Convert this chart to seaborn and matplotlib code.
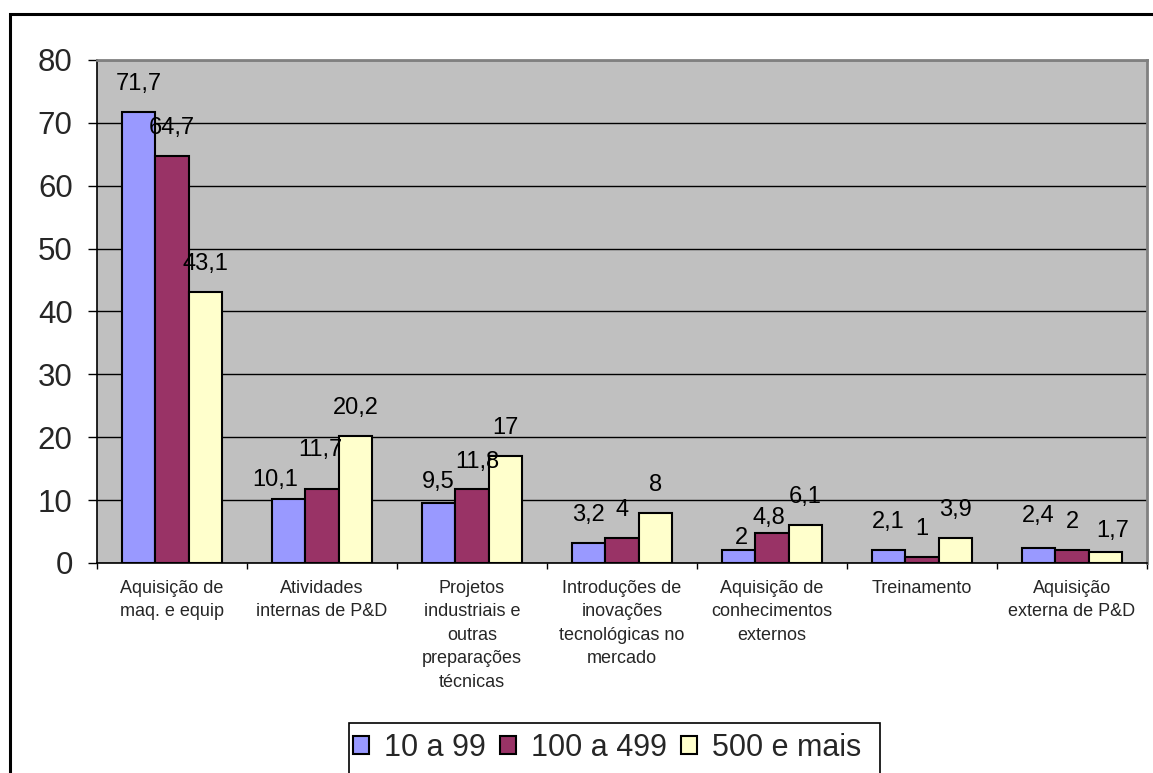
import matplotlib
matplotlib.use("Agg")
import matplotlib.pyplot as plt
from matplotlib.patches import Rectangle, Patch
import seaborn as sns
import pandas as pd

categories = [
    "Aquisição de\nmaq. e equip",
    "Atividades\ninternas de P&D",
    "Projetos\nindustriais e\noutras\npreparações\ntécnicas",
    "Introduções de\ninovações\ntecnológicas no\nmercado",
    "Aquisição de\nconhecimentos\nexternos",
    "Treinamento",
    "Aquisição\nexterna de P&D",
]
series_names = ["10 a 99", "100 a 499", "500 e mais"]
vals_10_99 = [71.7, 10.1, 9.5, 3.2, 2, 2.1, 2.4]
vals_100_499 = [64.7, 11.7, 11.8, 4, 4.8, 1, 2]
vals_500_mais = [43.1, 20.2, 17, 8, 6.1, 3.9, 1.7]
colors = ["#9999FF", "#993366", "#FFFFCC"]
y_ticks = [0, 10, 20, 30, 40, 50, 60, 70, 80]

# value labels sit ~28 px above each bar; a few are nudged (dx, dy in px)
label_gap_px = 28
label_nudges = {
    (0, 1): (-13, 19),
    (1, 1): (-2, 39.5),
    (0, 2): (0, 21.5),
    (1, 2): (5, 27),
    (0, 4): (3, 12),
    (1, 4): (-3, 15),
    (0, 6): (0, 32),
    (2, 6): (7, 21),
}

rows = []
for name, vals in zip(series_names, [vals_10_99, vals_100_499, vals_500_mais]):
    for cat, v in zip(categories, vals):
        rows.append({"categoria": cat, "porte": name, "valor": v})
df = pd.DataFrame(rows)

sns.set_theme(style="white")
plt.rcParams["font.family"] = ["Liberation Sans", "DejaVu Sans"]

W, H = 1153, 773
fig = plt.figure(figsize=(W / 100, H / 100), dpi=100)
fig.patch.set_facecolor("white")

# outer chart frame
fig.add_artist(Rectangle((10 / W, -0.05), 1.1, (773 - 14) / H + 0.05,
                         transform=fig.transFigure, fill=False,
                         edgecolor="black", linewidth=2.2, zorder=0))

ax = fig.add_axes([97 / W, (H - 563) / H, (1147 - 97) / W, (563 - 60) / H])
ax.set_facecolor("#C0C0C0")

sns.barplot(data=df, x="categoria", y="valor", hue="porte",
            hue_order=series_names, order=categories, palette=colors,
            width=0.667, gap=0, edgecolor="black", linewidth=1.5,
            saturation=1, legend=False, ax=ax, zorder=3)

def fmt(v):
    s = f"{v:.1f}"
    if s.endswith(".0"):
        s = s[:-2]
    return s.replace(".", ",")

px = 72 / 100  # points per pixel
for si, cont in enumerate(ax.containers):
    for ci, bar in enumerate(cont):
        h = bar.get_height()
        dx, dy = label_nudges.get((si, ci), (0, label_gap_px))
        ax.annotate(fmt(h), (bar.get_x() + bar.get_width() / 2, h),
                    xytext=(dx * px, dy * px), textcoords="offset points",
                    ha="center", va="center", fontsize=17, color="black",
                    zorder=5)

ax.set_ylim(0, 80)
ax.set_xlim(-0.5, len(categories) - 0.5)
ax.set_yticks(y_ticks)
ax.set_yticklabels([str(t) for t in y_ticks], fontsize=22.5)
ax.yaxis.grid(True, color="black", linewidth=1)
ax.set_axisbelow(True)
ax.tick_params(axis="y", which="major", length=6.5, width=1, color="black",
               pad=11, left=True, direction="out")

ax.set_xticks(range(len(categories)))
ax.set_xticklabels(categories, fontsize=13, linespacing=1.5, va="top")
ax.set_xticks([i - 0.5 for i in range(len(categories) + 1)], minor=True)
ax.tick_params(axis="x", which="major", length=0, pad=12)
ax.tick_params(axis="x", which="minor", length=4, width=1, color="black",
               bottom=True, direction="out")
ax.set_xlabel("")
ax.set_ylabel("")

for side in ["left", "bottom"]:
    ax.spines[side].set_color("black")
    ax.spines[side].set_linewidth(1.2)
for side in ["top", "right"]:
    ax.spines[side].set_color("#808080")
    ax.spines[side].set_linewidth(2)

# legend box runs past the lower edge of the figure
fig.add_artist(Rectangle((349 / W, -0.05), (880 - 349) / W, (H - 723) / H + 0.05,
                         transform=fig.transFigure, facecolor="white",
                         edgecolor="black", linewidth=1.2, zorder=4))
handles = [Patch(facecolor=c, edgecolor="black", linewidth=1.5) for c in colors]
leg = fig.legend(handles, series_names, loc="center left",
                 bbox_to_anchor=(353 / W, (H - 748) / H),
                 ncol=3, fontsize=22, frameon=False,
                 handlelength=0.52, handleheight=0.52,
                 handletextpad=0.5, columnspacing=0.45, borderpad=0,
                 borderaxespad=0)
leg.set_zorder(5)

fig.savefig("out.png", dpi=100)
